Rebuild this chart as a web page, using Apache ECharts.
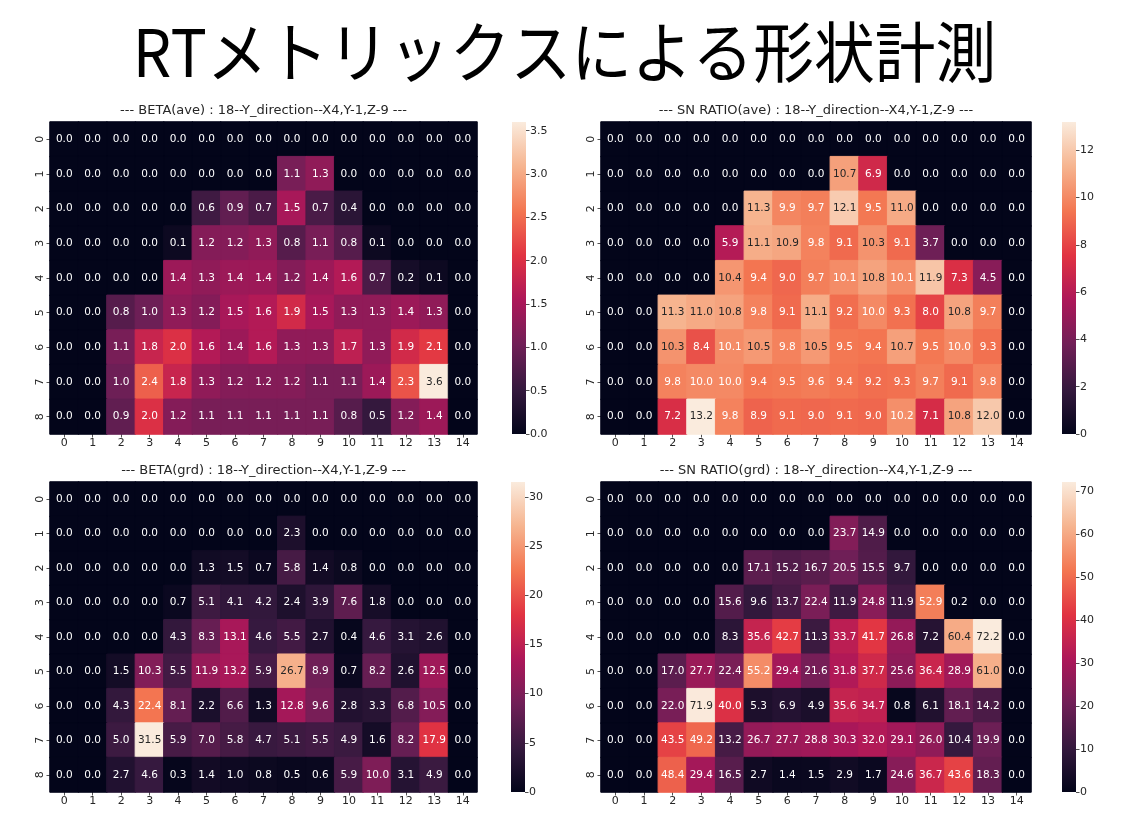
<!DOCTYPE html>
<html>
<head>
<meta charset="utf-8">
<script src="https://cdn.jsdelivr.net/npm/echarts@6/dist/echarts.min.js"></script>
<style>
html,body{margin:0;padding:0;background:#fff;}
#chart{width:1129px;height:837px;}
</style>
</head>
<body>
<div id="chart"></div>
<script>
// ---------- data ----------
const mainTitle = 'RTメトリックスによる形状計測';
const colLabels = ['0','1','2','3','4','5','6','7','8','9','10','11','12','13','14'];
const rowLabels = ['0','1','2','3','4','5','6','7','8'];

const titleBetaAve = '--- BETA(ave) : 18--Y_direction--X4,Y-1,Z-9 ---';
const titleSnAve   = '--- SN RATIO(ave) : 18--Y_direction--X4,Y-1,Z-9 ---';
const titleBetaGrd = '--- BETA(grd) : 18--Y_direction--X4,Y-1,Z-9 ---';
const titleSnGrd   = '--- SN RATIO(grd) : 18--Y_direction--X4,Y-1,Z-9 ---';

const betaAve = [
  [0,0,0,0,0,0,0,0,0,0,0,0,0,0,0],
  [0,0,0,0,0,0,0,0,1.1,1.3,0,0,0,0,0],
  [0,0,0,0,0,0.6,0.9,0.7,1.5,0.7,0.4,0,0,0,0],
  [0,0,0,0,0.1,1.2,1.2,1.3,0.8,1.1,0.8,0.1,0,0,0],
  [0,0,0,0,1.4,1.3,1.4,1.4,1.2,1.4,1.6,0.7,0.2,0.1,0],
  [0,0,0.8,1.0,1.3,1.2,1.5,1.6,1.9,1.5,1.3,1.3,1.4,1.3,0],
  [0,0,1.1,1.8,2.0,1.6,1.4,1.6,1.3,1.3,1.7,1.3,1.9,2.1,0],
  [0,0,1.0,2.4,1.8,1.3,1.2,1.2,1.2,1.1,1.1,1.4,2.3,3.6,0],
  [0,0,0.9,2.0,1.2,1.1,1.1,1.1,1.1,1.1,0.8,0.5,1.2,1.4,0]
];
const snAve = [
  [0,0,0,0,0,0,0,0,0,0,0,0,0,0,0],
  [0,0,0,0,0,0,0,0,10.7,6.9,0,0,0,0,0],
  [0,0,0,0,0,11.3,9.9,9.7,12.1,9.5,11.0,0,0,0,0],
  [0,0,0,0,5.9,11.1,10.9,9.8,9.1,10.3,9.1,3.7,0,0,0],
  [0,0,0,0,10.4,9.4,9.0,9.7,10.1,10.8,10.1,11.9,7.3,4.5,0],
  [0,0,11.3,11.0,10.8,9.8,9.1,11.1,9.2,10.0,9.3,8.0,10.8,9.7,0],
  [0,0,10.3,8.4,10.1,10.5,9.8,10.5,9.5,9.4,10.7,9.5,10.0,9.3,0],
  [0,0,9.8,10.0,10.0,9.4,9.5,9.6,9.4,9.2,9.3,9.7,9.1,9.8,0],
  [0,0,7.2,13.2,9.8,8.9,9.1,9.0,9.1,9.0,10.2,7.1,10.8,12.0,0]
];
const betaGrd = [
  [0,0,0,0,0,0,0,0,0,0,0,0,0,0,0],
  [0,0,0,0,0,0,0,0,2.3,0,0,0,0,0,0],
  [0,0,0,0,0,1.3,1.5,0.7,5.8,1.4,0.8,0,0,0,0],
  [0,0,0,0,0.7,5.1,4.1,4.2,2.4,3.9,7.6,1.8,0,0,0],
  [0,0,0,0,4.3,8.3,13.1,4.6,5.5,2.7,0.4,4.6,3.1,2.6,0],
  [0,0,1.5,10.3,5.5,11.9,13.2,5.9,26.7,8.9,0.7,8.2,2.6,12.5,0],
  [0,0,4.3,22.4,8.1,2.2,6.6,1.3,12.8,9.6,2.8,3.3,6.8,10.5,0],
  [0,0,5.0,31.5,5.9,7.0,5.8,4.7,5.1,5.5,4.9,1.6,8.2,17.9,0],
  [0,0,2.7,4.6,0.3,1.4,1.0,0.8,0.5,0.6,5.9,10.0,3.1,4.9,0]
];
const snGrd = [
  [0,0,0,0,0,0,0,0,0,0,0,0,0,0,0],
  [0,0,0,0,0,0,0,0,23.7,14.9,0,0,0,0,0],
  [0,0,0,0,0,17.1,15.2,16.7,20.5,15.5,9.7,0,0,0,0],
  [0,0,0,0,15.6,9.6,13.7,22.4,11.9,24.8,11.9,52.9,0.2,0,0],
  [0,0,0,0,8.3,35.6,42.7,11.3,33.7,41.7,26.8,7.2,60.4,72.2,0],
  [0,0,17.0,27.7,22.4,55.2,29.4,21.6,31.8,37.7,25.6,36.4,28.9,61.0,0],
  [0,0,22.0,71.9,40.0,5.3,6.9,4.9,35.6,34.7,0.8,6.1,18.1,14.2,0],
  [0,0,43.5,49.2,13.2,26.7,27.7,28.8,30.3,32.0,29.1,26.0,10.4,19.9,0],
  [0,0,48.4,29.4,16.5,2.7,1.4,1.5,2.9,1.7,24.6,36.7,43.6,18.3,0]
];

const betaAveTicks = [0,0.5,1.0,1.5,2.0,2.5,3.0,3.5];
const snAveTicks   = [0,2,4,6,8,10,12];
const betaGrdTicks = [0,5,10,15,20,25,30];
const snGrdTicks   = [0,10,20,30,40,50,60,70];

// ---------- styling ----------
const rocket = ['#03051a','#35193e','#701f57','#ad1759','#e13342','#f37651','#f6b48f','#faebdd'];
const TXT = '#262626';
const FONT = 'DejaVu Sans';

function hexToRgb(h){return [parseInt(h.substr(1,2),16),parseInt(h.substr(3,2),16),parseInt(h.substr(5,2),16)];}
function rocketAt(t){
  t = Math.max(0, Math.min(1, t));
  const n = rocket.length - 1;
  const p = t * n;
  const i = Math.min(n - 1, Math.floor(p));
  const f = p - i;
  const a = hexToRgb(rocket[i]), b = hexToRgb(rocket[i+1]);
  return a.map((v,k)=>v + (b[k]-v)*f);
}
function lum(rgb){
  const c = rgb.map(v=>{v/=255; return v<=0.03928? v/12.92 : Math.pow((v+0.055)/1.055,2.4);});
  return 0.2126*c[0]+0.7152*c[1]+0.0722*c[2];
}
function rgbStr(rgb){return 'rgb(' + rgb.map(v=>Math.round(v)).join(',') + ')';}

const panels = [
  {title:titleBetaAve, data:betaAve, ticks:betaAveTicks, dec:1, left:50,  top:122, width:427, height:312, cbLeft:512},
  {title:titleSnAve,   data:snAve,   ticks:snAveTicks,   dec:0, left:601, top:122, width:430, height:312, cbLeft:1062},
  {title:titleBetaGrd, data:betaGrd, ticks:betaGrdTicks, dec:0, left:50,  top:482, width:427, height:310, cbLeft:511},
  {title:titleSnGrd,   data:snGrd,   ticks:snGrdTicks,   dec:0, left:601, top:482, width:430, height:310, cbLeft:1062}
];

const grid = [], xAxis = [], yAxis = [], series = [], visualMap = [], graphic = [];

graphic.push({
  type:'text', x:564.5, y:52, scaleX:0.92,
  style:{text:mainTitle, fill:'#000', font:'66px "Noto Sans CJK JP"', textAlign:'center', textVerticalAlign:'middle'}
});

panels.forEach((p, k)=>{
  let max = 0;
  p.data.forEach(r=>r.forEach(v=>{ if(v>max) max=v; }));
  const items = [];
  p.data.forEach((row, r)=>row.forEach((v, c)=>{
    const rgb = rocketAt(v/max);
    const L = lum(rgb);
    items.push({
      value:[c, r, v],
      itemStyle:{borderColor:rgbStr(rgb), borderWidth:1},
      label:{color: L > 0.408 ? TXT : '#ffffff'}
    });
  }));
  grid.push({left:p.left, top:p.top, width:p.width, height:p.height, containLabel:false});
  xAxis.push({
    type:'category', gridIndex:k, data:colLabels, position:'bottom',
    axisLine:{show:false}, splitLine:{show:false}, splitArea:{show:false},
    axisTick:{show:true, alignWithLabel:true, length:3.5, lineStyle:{color:TXT, width:0.8}},
    axisLabel:{color:TXT, fontSize:11, fontFamily:FONT, margin:4}
  });
  yAxis.push({
    type:'category', gridIndex:k, data:rowLabels, inverse:true,
    axisLine:{show:false}, splitLine:{show:false}, splitArea:{show:false},
    axisTick:{show:true, alignWithLabel:true, length:3.5, lineStyle:{color:TXT, width:0.8}},
    axisLabel:{color:TXT, fontSize:11, fontFamily:FONT, margin:4, rotate:90}
  });
  series.push({
    type:'heatmap', xAxisIndex:k, yAxisIndex:k, data:items,
    label:{show:true, fontSize:10.5, fontFamily:FONT, formatter:(o)=>o.value[2].toFixed(1)},
    emphasis:{disabled:true}
  });
  visualMap.push({
    type:'continuous', show:false, seriesIndex:k, dimension:2, min:0, max:max,
    inRange:{color:rocket}
  });
  graphic.push({
    type:'text', x:p.left + p.width/2, y:p.top - 11,
    style:{text:p.title, fill:TXT, font:'13px "DejaVu Sans"', textAlign:'center', textVerticalAlign:'middle'}
  });
  p.max = max;
});

// colorbars
panels.forEach((p, k)=>{
  const gi = 4 + k;
  grid.push({left:p.cbLeft, top:p.top, width:14, height:p.height, containLabel:false});
  xAxis.push({type:'category', gridIndex:gi, data:['cb'], show:false});
  const step = p.ticks[1] - p.ticks[0];
  yAxis.push({
    type:'value', gridIndex:gi, position:'right', min:0, max:p.max, interval:step,
    axisLine:{show:false}, splitLine:{show:false},
    axisTick:{show:true, length:3.5, customValues:p.ticks, lineStyle:{color:TXT, width:0.8}},
    axisLabel:{show:true, customValues:p.ticks, color:TXT, fontSize:11, fontFamily:FONT, margin:4,
      formatter:(v)=>v.toFixed(p.dec)}
  });
  const stops = rocket.map((c,i)=>({offset:i/(rocket.length-1), color:c}));
  series.push({
    type:'bar', xAxisIndex:gi, yAxisIndex:gi, data:[p.max], barWidth:'100%', barCategoryGap:0,
    itemStyle:{color:new echarts.graphic.LinearGradient(0,1,0,0,stops)},
    emphasis:{disabled:true}, silent:true
  });
});

const chart = echarts.init(document.getElementById('chart'), null, {renderer:'canvas'});
chart.setOption({
  backgroundColor:'#ffffff',
  animation:false,
  grid, xAxis, yAxis, series, visualMap, graphic
});
</script>
</body>
</html>
